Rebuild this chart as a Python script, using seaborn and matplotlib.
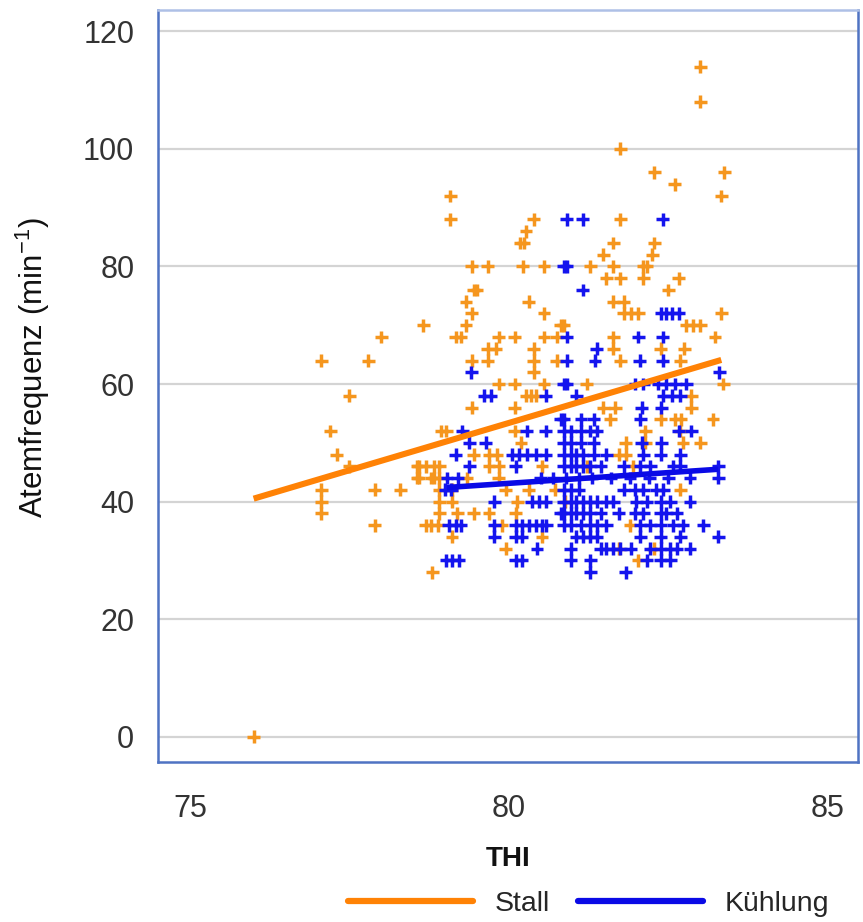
import matplotlib
matplotlib.use("Agg")
import matplotlib.pyplot as plt
from matplotlib.lines import Line2D
import seaborn as sns
import pandas as pd

# --- Stall: respiration rate (per min) and the THI values observed at that rate
stall_rows = [114, 108, 100, 96, 94, 92, 88, 86, 84, 82, 80, 78, 76, 74, 72, 70,
              68, 66, 64, 62, 60, 58, 56, 54, 52, 50, 48, 46, 44, 42, 40, 38,
              36, 34, 32, 30, 28, 0]
stall_thi = [
    [83.0], [83.0], [81.75], [82.28, 83.38], [82.6], [79.08, 83.33],
    [79.08, 80.39, 81.75], [80.27], [80.23, 80.18, 81.64, 82.28], [81.48, 82.25],
    [79.42, 79.67, 80.22, 80.55, 81.28, 81.64, 82.11, 82.16],
    [81.53, 81.75, 82.11, 82.66], [79.45, 79.5, 82.5],
    [79.33, 80.31, 81.64, 81.8], [79.42, 80.55, 81.8, 81.91, 82.03, 83.33],
    [78.66, 79.33, 80.81, 80.86, 82.78, 82.89, 83.0],
    [78.0, 79.17, 79.25, 79.84, 80.09, 80.55, 80.75, 81.64, 83.23],
    [79.67, 79.8, 80.39, 81.64, 82.38, 82.75],
    [77.06, 77.8, 79.42, 79.67, 80.39, 80.75, 81.75, 82.69],
    [80.39], [79.84, 80.09, 80.55, 81.22, 83.36], [77.5, 80.27, 80.34, 80.42, 82.86],
    [79.42, 80.09, 81.48, 81.67, 82.86], [81.59, 82.38, 82.61, 82.7, 83.2],
    [77.2, 78.94, 79.02, 80.09, 82.14, 82.69], [80.19, 81.83, 82.14, 82.73, 83.0],
    [77.3, 79.45, 79.69, 79.81, 81.72, 81.83],
    [77.5, 78.56, 78.59, 78.7, 78.83, 78.91, 79.69, 79.84, 80.52, 81.22, 81.95],
    [78.56, 78.59, 78.78, 78.83, 78.91, 79.34, 79.84],
    [77.06, 77.9, 78.3, 78.91, 79.11, 79.95, 80.31, 80.73, 82.69],
    [77.06, 78.91, 79.11, 80.13, 80.88],
    [77.06, 78.91, 79.19, 79.45, 79.69, 80.11],
    [77.9, 78.7, 78.78, 78.89, 79.89, 81.9], [79.11, 80.52],
    [79.95, 81.72, 82.27], [82.03], [78.8], [76.0],
]

# --- Kühlung: respiration rate (per min) and the THI values observed at that rate
kuehl_rows = [88, 80, 76, 72, 68, 66, 64, 62, 60, 58, 56, 54, 52, 50, 48, 46,
              44, 42, 40, 38, 36, 34, 32, 30, 28]
kuehl_thi = [
    [80.91, 81.16, 82.41], [80.86, 80.91], [81.16], [82.39, 82.47, 82.55, 82.66],
    [80.91, 82.03, 82.41], [81.38], [80.91, 81.35, 82.05, 82.41], [79.41, 83.3],
    [80.86, 80.91, 81.98, 82.11, 82.34, 82.47, 82.61, 82.78],
    [79.61, 79.72, 80.58, 81.06, 82.42, 82.55, 82.69],
    [82.08, 82.39], [80.81, 80.86, 81.13, 81.33, 82.06],
    [79.27, 80.28, 80.58, 80.86, 80.97, 81.13, 81.28, 81.38, 82.66, 82.86],
    [79.38, 79.64, 80.86, 80.97, 81.13, 81.33, 82.08, 82.39],
    [79.17, 80.05, 80.16, 80.28, 80.42, 80.58, 80.86, 80.97, 81.06, 81.16,
     81.33, 81.53, 82.11, 82.38, 82.69],
    [79.38, 80.11, 80.86, 80.97, 81.06, 81.16, 81.28, 81.44, 81.8, 82.06,
     82.22, 82.58, 82.69, 83.28],
    [79.03, 79.2, 80.5, 80.7, 80.9, 81.1, 81.3, 81.6, 81.9, 82.2, 82.5,
     82.84, 83.28],
    [79.0, 79.1, 80.86, 80.97, 81.1, 81.8, 81.98, 82.11, 82.31, 82.42],
    [79.77, 80.36, 80.47, 80.58, 80.86, 80.97, 81.06, 81.16, 81.28, 81.38,
     81.53, 81.64, 82.0, 82.16, 82.38, 82.53, 82.84],
    [80.81, 80.86, 80.97, 81.06, 81.16, 81.28, 81.44, 81.72, 81.98, 82.11,
     82.38, 82.47, 82.63],
    [79.06, 79.17, 79.25, 79.77, 80.11, 80.2, 80.31, 80.42, 80.52, 80.59,
     80.86, 80.97, 81.13, 81.28, 81.38, 81.53, 82.06, 82.22, 82.38, 82.58,
     82.73, 83.05],
    [79.77, 80.11, 80.2, 81.06, 81.16, 81.28, 81.38, 82.06, 82.38, 82.69, 83.28],
    [80.44, 80.97, 81.44, 81.53, 81.64, 81.75, 81.91, 82.22, 82.38, 82.53,
     82.63, 82.84],
    [79.02, 79.11, 79.22, 80.11, 80.2, 80.97, 81.28, 82.16, 82.38, 82.53],
    [81.28, 81.83],
]

# --- fitted regression lines (end points)
stall_fit_thi = [76.0, 83.33]
stall_fit_rate = [40.5, 64.1]
kuehl_fit_thi = [79.03, 83.28]
kuehl_fit_rate = [42.4, 45.5]

x_ticks = [75, 80, 85]
y_ticks = [0, 20, 40, 60, 80, 100, 120]
groups = ["Stall", "Kühlung"]

ORANGE_PT = "#F5961E"
ORANGE_LN = "#FF8205"
BLUE_PT = "#1414EE"
BLUE_LN = "#0A0AE6"
FRAME = "#4F73C3"


def to_frame(rows, thi, name):
    recs = [(t, r, name) for r, ts in zip(rows, thi) for t in ts]
    return pd.DataFrame(recs, columns=["THI", "Atemfrequenz", "Gruppe"])


points = pd.concat([to_frame(stall_rows, stall_thi, groups[0]),
                    to_frame(kuehl_rows, kuehl_thi, groups[1])],
                   ignore_index=True)
fits = pd.DataFrame({
    "THI": stall_fit_thi + kuehl_fit_thi,
    "Atemfrequenz": stall_fit_rate + kuehl_fit_rate,
    "Gruppe": [groups[0]] * 2 + [groups[1]] * 2,
})

sns.set_theme(style="white")
plt.rcParams["font.family"] = ["Liberation Sans", "DejaVu Sans"]
plt.rcParams["mathtext.fontset"] = "custom"
plt.rcParams["mathtext.rm"] = "Liberation Sans"
plt.rcParams["mathtext.default"] = "regular"

fig = plt.figure(figsize=(8.63, 9.22), dpi=100)
ax = fig.add_axes([0.183, 0.1735, 0.811, 0.8155])

for yt in y_ticks:
    ax.axhline(yt, color="#D4D4D4", lw=1.6, zorder=0)

sns.scatterplot(data=points, x="THI", y="Atemfrequenz", hue="Gruppe",
                palette={groups[0]: ORANGE_PT, groups[1]: BLUE_PT},
                marker="+", s=85, linewidth=2.5, legend=False, ax=ax, zorder=2)

sns.lineplot(data=fits[fits.Gruppe == groups[0]], x="THI", y="Atemfrequenz",
             color=ORANGE_LN, lw=4.4, ax=ax, legend=False, zorder=3,
             solid_capstyle="butt")
sns.lineplot(data=fits[fits.Gruppe == groups[1]], x="THI", y="Atemfrequenz",
             color=BLUE_LN, lw=4.0, ax=ax, legend=False, zorder=3,
             solid_capstyle="butt")

ax.set_xlim(74.5, 85.47)
ax.set_ylim(-4.3, 123.6)
ax.set_xticks(x_ticks)
ax.set_yticks(y_ticks)
ax.tick_params(axis="both", direction="out", colors=FRAME, labelcolor="#333333",
               labelsize=22, width=1.6)
ax.tick_params(axis="x", length=11, pad=12)
ax.tick_params(axis="y", length=9, pad=8)
for sp in ax.spines.values():
    sp.set_color(FRAME)
    sp.set_linewidth(1.8)
ax.spines["top"].set_color("#AEC0E6")

ax.set_xlabel("THI", fontsize=20, fontweight="bold", color="#111111", labelpad=16)
ax.set_ylabel("Atemfrequenz (min$^{-1}$)", fontsize=22.5, color="#111111")
ax.yaxis.set_label_coords(-0.152, 0.524)

handles = [Line2D([], [], color=ORANGE_LN, lw=4.5),
           Line2D([], [], color=BLUE_LN, lw=4.5)]
fig.legend(handles, groups, loc="center", bbox_to_anchor=(0.682, 0.02),
           ncol=2, frameon=False, fontsize=20.5, handlelength=4.4,
           handletextpad=0.75, columnspacing=1.0)

fig.savefig("out.png", dpi=100)
